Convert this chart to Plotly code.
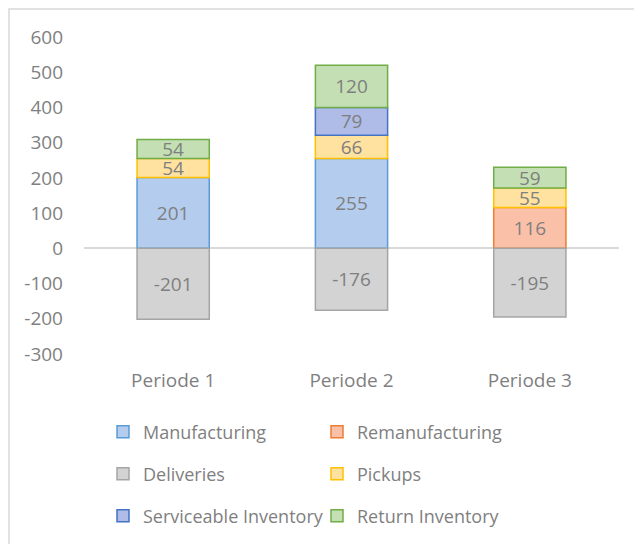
import plotly.graph_objects as go

periods = ["Periode 1", "Periode 2", "Periode 3"]
manufacturing = [201, 255, None]
remanufacturing = [None, None, 116]
deliveries = [-201, -176, -195]
pickups = [54, 66, 55]
serviceable = [None, 79, None]
return_inv = [54, 120, 59]

y_ticks = [600, 500, 400, 300, 200, 100, 0, -100, -200, -300]
y_tick_labels = ["600", "500", "400", "300", "200", "100", "0", "-100", "-200", "-300"]

FONT = "Open Sans"
GRAY = "#7F7F7F"
FS = 19
LFS = 18

series = [
    ("Manufacturing", manufacturing, "#B4CCEE", "#5B9BD5", "legend"),
    ("Remanufacturing", remanufacturing, "#FBC0A8", "#ED7D31", "legend"),
    ("Deliveries", deliveries, "#D3D3D3", "#A5A5A5", "legend2"),
    ("Pickups", pickups, "#FFE1A0", "#FFC000", "legend2"),
    ("Serviceable Inventory", serviceable, "#B0BCE8", "#4472C4", "legend3"),
    ("Return Inventory", return_inv, "#C3DFB3", "#70AD47", "legend3"),
]

fig = go.Figure()
for name, vals, fill, edge, lg in series:
    fig.add_trace(go.Bar(
        x=periods, y=vals, name=name,
        marker=dict(color=fill, line=dict(color=edge, width=1.5)),
        text=[("" if v is None else str(v)) for v in vals],
        textposition="inside", insidetextanchor="middle", textangle=0,
        textfont=dict(family=FONT, size=FS, color=GRAY),
        legend=lg, width=0.405,
    ))

# plot area in figure pixels: x 76..611, y 29..346
L, R, T, B = 76, 611, 29, 346
PW, PH = R - L, B - T

legend_common = dict(
    orientation="h", xanchor="left", yanchor="middle",
    font=dict(family=FONT, size=LFS, color=GRAY),
    entrywidth=169, bgcolor="rgba(0,0,0,0)", itemclick=False,
)
x_leg = (95 - L) / PW

fig.update_layout(
    width=642, height=544,
    margin=dict(l=L, r=642 - R, t=T, b=544 - B),
    plot_bgcolor="white", paper_bgcolor="white",
    barmode="relative",
    uniformtext=dict(minsize=FS, mode="show"),
    showlegend=True,
    legend=dict(x=x_leg, y=(B - 424) / PH, **legend_common),
    legend2=dict(x=x_leg, y=(B - 466) / PH, **legend_common),
    legend3=dict(x=x_leg, y=(B - 508) / PH, **legend_common),
    xaxis=dict(
        showgrid=False, showline=False, ticks="",
        tickfont=dict(family=FONT, size=FS, color=GRAY),
        ticklabelstandoff=13,
    ),
    yaxis=dict(
        range=[-300, 600], tickvals=y_ticks, ticktext=y_tick_labels,
        showgrid=False, showline=False, ticks="",
        zeroline=True, zerolinecolor="#D9D9D9", zerolinewidth=1.5,
        tickfont=dict(family=FONT, size=FS, color=GRAY),
        ticklabelstandoff=20,
    ),
    shapes=[dict(
        type="rect", xref="paper", yref="paper",
        x0=(1 - L) / PW, x1=(660 - L) / PW,
        y0=(B - 570) / PH, y1=(B - 1) / PH,
        line=dict(color="#D9D9D9", width=1.5), fillcolor="rgba(0,0,0,0)",
        layer="below",
    )],
)

fig.write_html("out.html")
